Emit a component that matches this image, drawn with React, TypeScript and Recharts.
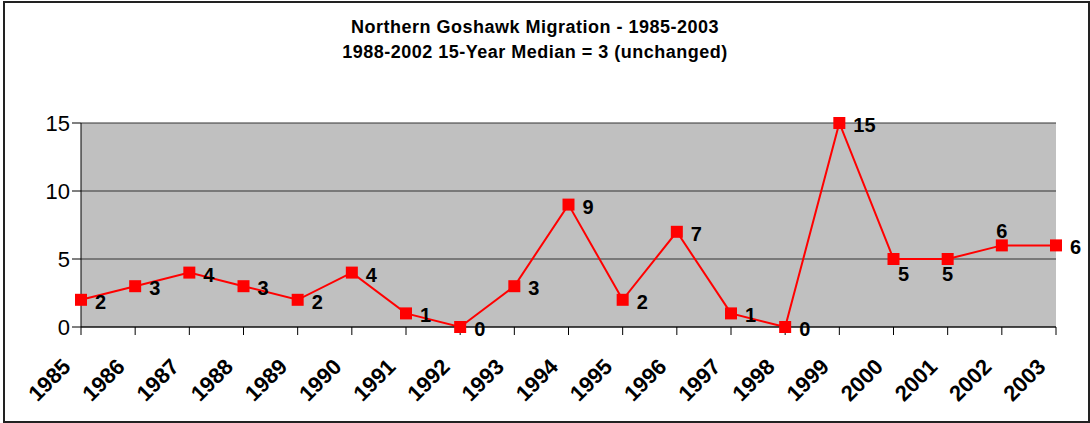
import { LineChart, Line, XAxis, YAxis, CartesianGrid, LabelList } from 'recharts'

const years = [
  '1985', '1986', '1987', '1988', '1989', '1990', '1991', '1992', '1993', '1994',
  '1995', '1996', '1997', '1998', '1999', '2000', '2001', '2002', '2003',
]
const counts = [2, 3, 4, 3, 2, 4, 1, 0, 3, 9, 2, 7, 1, 0, 15, 5, 5, 6, 6]
const yTicks = [0, 5, 10, 15]

// where each value label sits relative to its point
const labelSpots: Record<string, 'right' | 'below' | 'above'> = {
  '2000': 'below',
  '2001': 'below',
  '2002': 'above',
}

const data = years.map((year, i) => ({ year, count: counts[i] }))

const font = 'Arial, "Liberation Sans", sans-serif'

const YearTick = (props: any) => {
  const { x, y, payload } = props
  return (
    <g transform={`translate(${x - 9},${y + 31}) rotate(-45)`}>
      <text x={0} y={0} textAnchor="end" fontFamily={font} fontWeight="bold" fontSize={22} fill="#000">
        {payload.value}
      </text>
    </g>
  )
}

const Square = (props: any) => {
  const { cx, cy } = props
  if (cx == null || cy == null) return null
  return <rect x={cx - 6} y={cy - 6} width={12} height={12} fill="#ff0000" />
}

const ValueLabel = (props: any) => {
  const { x, y, value, index } = props
  const spot = labelSpots[years[index]] ?? 'right'
  let tx = x + 14
  let ty = y + 2
  let anchor = 'start'
  if (spot === 'below') {
    tx = index === 15 ? x + 10 : x
    ty = y + 15
    anchor = 'middle'
  } else if (spot === 'above') {
    tx = x
    ty = y - 14
    anchor = 'middle'
  }
  return (
    <text x={tx} y={ty} textAnchor={anchor} dominantBaseline="central" fontFamily={font} fontWeight="bold" fontSize={20} fill="#000">
      {value}
    </text>
  )
}

export default function App() {
  return (
    <div style={{ position: 'absolute', left: 0, top: 0, width: 1090, height: 423, background: '#fff' }}>
      <div style={{ position: 'absolute', left: 3, top: 1, width: 1083, height: 418, border: '2px solid #222' }} />
      <div
        style={{
          position: 'absolute',
          left: 0,
          top: 15,
          width: 1070,
          textAlign: 'center',
          fontFamily: font,
          fontWeight: 'bold',
          fontSize: 18,
          letterSpacing: 0.5,
          lineHeight: '25px',
        }}
      >
        <div>Northern Goshawk Migration - 1985-2003</div>
        <div>1988-2002 15-Year Median = 3 (unchanged)</div>
      </div>
      <LineChart
        width={1090}
        height={423}
        data={data}
        margin={{ top: 123, right: 34, bottom: 36, left: 21 }}
        style={{ position: 'absolute', left: 0, top: 0 }}
      >
        <CartesianGrid vertical={false} fill="#c0c0c0" stroke="#333" strokeOpacity={1} />
        <XAxis
          dataKey="year"
          interval={0}
          height={60}
          tick={<YearTick />}
          tickSize={8}
          stroke="#000"
          axisLine={{ stroke: '#000' }}
          tickLine={{ stroke: '#000' }}
        />
        <YAxis
          domain={[0, 15]}
          ticks={yTicks}
          width={60}
          tickSize={9}
          stroke="#000"
          tick={{ fill: '#000', fontSize: 22, fontFamily: font }}
        />
        <Line
          type="linear"
          dataKey="count"
          stroke="#ff0000"
          strokeWidth={2}
          dot={<Square />}
          activeDot={false}
          isAnimationActive={false}
        >
          <LabelList dataKey="count" content={<ValueLabel />} />
        </Line>
      </LineChart>
    </div>
  )
}
